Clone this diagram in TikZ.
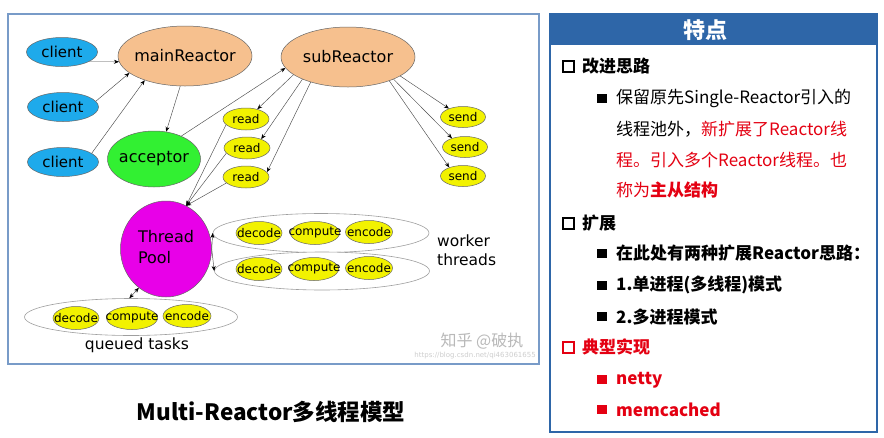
\documentclass[tikz,border=0pt]{standalone}
\usepackage{fontspec}
\usetikzlibrary{shapes.geometric,arrows.meta}
\newfontfamily\dv{DejaVu Sans}
\newfontfamily\cjk{Noto Sans CJK SC}
\definecolor{clientblue}{RGB}{30,170,235}
\definecolor{peach}{RGB}{246,192,142}
\definecolor{accgreen}{RGB}{50,240,50}
\definecolor{tyellow}{RGB}{242,242,0}
\definecolor{poolmag}{RGB}{232,0,232}
\definecolor{framebl}{RGB}{120,155,200}
\definecolor{panelbl}{RGB}{46,102,168}
\definecolor{hred}{RGB}{228,0,18}
\definecolor{wmark}{RGB}{185,185,185}
% centred label that does not widen its ellipse
\newcommand\ctext[1]{\makebox[0pt]{#1}}
\newcommand\fs[1]{\fontsize{#1}{#1}\selectfont}
\begin{document}
\begin{tikzpicture}[x=1pt,y=-1pt,
  every node/.style={inner sep=0pt},
  blob/.style={ellipse, draw=gray!80!black, line width=0.5pt},
  client/.style={blob, fill=clientblue, minimum width=71pt, minimum height=29pt, font=\dv\fs{15}},
  reactor/.style={blob, fill=peach, minimum width=134pt, minimum height=60pt, font=\dv\fs{16}},
  small/.style={blob, fill=tyellow, minimum width=46pt, minimum height=22pt, font=\dv\fs{12}},
  task/.style={small, minimum height=23pt},
  group/.style={ellipse, draw=gray!75, line width=0.6pt, fill=white},
  arr/.style={draw=gray!60!black, line width=0.45pt, -{Stealth[length=5pt,width=4pt,color=black]}},
  darr/.style={arr, {Stealth[length=5pt,width=4pt,color=black]}-{Stealth[length=5pt,width=4pt,color=black]}},
  ptext/.style={anchor=west, font=\cjk\fs{17}},
  chk/.style={line width=2.2pt},
]
\useasboundingbox (0,0) rectangle (884,437);
\fill[white] (0,0) rectangle (884,437);

% ---------- left: the Multi-Reactor model ----------
\draw[framebl, line width=1.2pt] (8,14) rectangle (539,364);

\node[client] (c1) at (62,52) {\ctext{client}};
\node[client] (c2) at (63,107) {\ctext{client}};
\node[client] (c3) at (63,162) {\ctext{client}};
\node[reactor] (main) at (185,56) {\ctext{mainReactor}};
\node[reactor] (sub) at (348,57) {\ctext{subReactor}};
\node[blob, fill=accgreen, minimum width=93pt, minimum height=56pt, font=\dv\fs{16}] (acc) at (154,159) {\ctext{acceptor}};

\node[small] (r1) at (246,119) {\ctext{read}};
\node[small] (r2) at (247,148) {\ctext{read}};
\node[small] (r3) at (246,177) {\ctext{read}};
\node[small, minimum width=45pt, minimum height=21pt] (s1) at (463,117) {\ctext{send}};
\node[small, minimum width=45pt, minimum height=21pt] (s2) at (465,147) {\ctext{send}};
\node[small, minimum width=45pt, minimum height=21pt] (s3) at (463,176) {\ctext{send}};

\node[blob, fill=poolmag, minimum width=91pt, minimum height=96pt, font=\dv\fs{16}] (pool) at (166,249)
  {\ctext{\begin{tabular}{@{}l@{}}Thread\\[4pt]Pool\end{tabular}}};

% worker threads
\node[group, minimum width=216pt, minimum height=39pt] (w1) at (321,233) {};
\node[group, minimum width=215pt, minimum height=38pt] (w2) at (322,271) {};
\node[task] (d1) at (259,233) {\ctext{decode}};
\node[task, minimum width=49pt] (p1) at (315,233) {\ctext{compute}};
\node[task, minimum width=47pt] (e1) at (369,232) {\ctext{encode}};
\node[task] (d2) at (259,269) {\ctext{decode}};
\node[task, minimum width=49pt] (p2) at (314,269) {\ctext{compute}};
\node[task, minimum width=47pt] (e2) at (369,268) {\ctext{encode}};
\node[anchor=west, font=\dv\fs{15.5}, align=left] (wl) at (437,250) {worker\\[3pt]threads};

% queued tasks
\node[group, minimum width=213pt, minimum height=37pt] (q) at (131,317) {};
\node[task] (d3) at (76,318) {\ctext{decode}};
\node[task, minimum width=51pt] (p3) at (132,318) {\ctext{compute}};
\node[task, minimum width=48pt] (e3) at (187,316) {\ctext{encode}};
\node[font=\dv\fs{15.5}] (ql) at (137,345) {queued tasks};

% connectors
\draw[arr] (c1.-20) -- (main.185);
\draw[arr] (c2.10) -- (main.197);
\draw[arr] (c3.17) -- (main.211);
\draw[arr] (main.261) -- (acc.66);
\draw[arr] (acc.40) -- (sub.190);
\draw[arr] (sub.198) -- (r1.41);
\draw[arr] (sub.206) -- (r2.32);
\draw[arr] (sub.214) -- (r3.13);
\draw[arr] (sub.-20) -- (s1.149);
\draw[arr] (sub.-26) -- (s2.146);
\draw[arr] (sub.-30) -- (s3.148);
\draw[arr] (r1.196) -- (pool.65);
\draw[arr] (r2.194) -- (pool.65);
\draw[arr] (r3.197) -- (pool.65);
\draw[arr] (pool.east) -- (w1.west);
\draw[arr] (pool.east) -- (w2.west);
\draw[darr] (q.95) -- (pool.235);

% watermark
\node[font=\cjk\fs{16}, text=wmark] (wm) at (482,341) {知乎 @破执};
\node[anchor=east, font=\dv\fs{7}, text=wmark!70] (url) at (536,356) {https://blog.csdn.net/qi463061655};

% caption
\node[font=\cjk\bfseries\fs{22.5}] (title) at (271,412) {Multi-Reactor多线程模型};

% ---------- right: feature panel ----------
\fill[panelbl] (550,14) rectangle (877,45);
\draw[panelbl, line width=2.5pt] (550,14) rectangle (877,432);
\node[font=\cjk\bfseries\fs{22}, text=white] (hd) at (705,30) {特点};

\draw[chk] (563,61) rectangle (574,72);
\node[ptext, font=\cjk\bfseries\fs{17}] (t1) at (582,66) {改进思路};
\fill (597,94) rectangle (607,103);
\node[ptext] (t2) at (616,98) {保留原先Single-Reactor引入的};
\node[ptext] (t3) at (616,129) {线程池外，\textcolor{hred}{新扩展了Reactor线}};
\node[ptext, text=hred] (t4) at (616,160) {程。引入多个Reactor线程。也};
\node[ptext, text=hred] (t5) at (616,190) {称为\textbf{主从结构}};

\draw[chk] (563,218) rectangle (574,229);
\node[ptext, font=\cjk\bfseries\fs{17}] (t6) at (582,223) {扩展};
\fill (597,249) rectangle (607,258);
\node[ptext, font=\cjk\bfseries\fs{17}] (t7) at (616,253) {在此处有两种扩展Reactor思路：};
\fill (597,281) rectangle (607,290);
\node[ptext, font=\cjk\bfseries\fs{17}] (t8) at (616,285) {1.单进程(多线程)模式};
\fill (597,312) rectangle (607,321);
\node[ptext, font=\cjk\bfseries\fs{17}] (t9) at (616,317) {2.多进程模式};

\draw[chk, hred] (563,342) rectangle (574,353);
\node[ptext, font=\cjk\bfseries\fs{17}, text=hred] (t10) at (582,347) {典型实现};
\fill[hred] (597,375) rectangle (607,384);
\node[ptext, font=\cjk\bfseries\fs{17}, text=hred] (t11) at (616,380) {netty};
\fill[hred] (597,405) rectangle (607,414);
\node[ptext, font=\cjk\bfseries\fs{17}, text=hred] (t12) at (616,410) {memcached};
\end{tikzpicture}
\end{document}
